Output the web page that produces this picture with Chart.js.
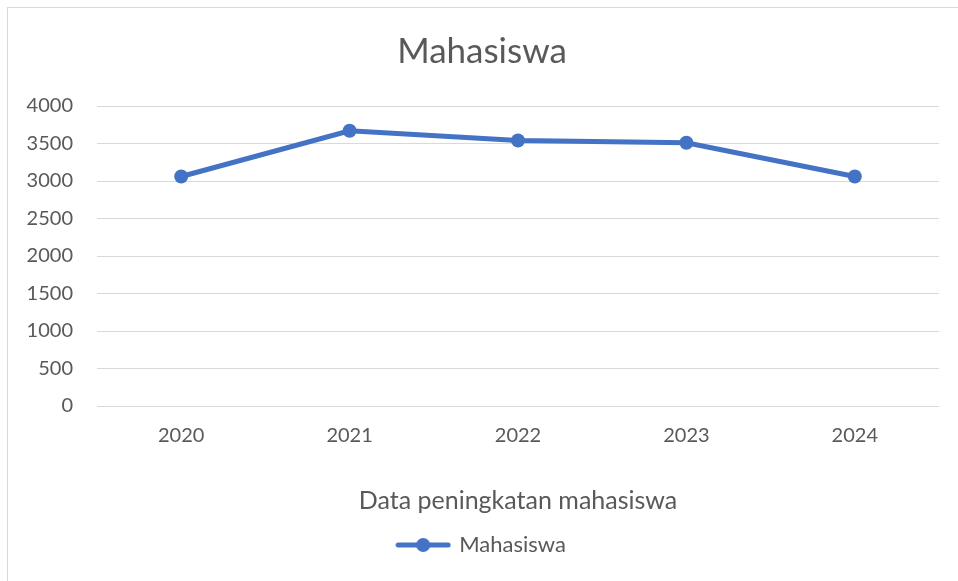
<!DOCTYPE html>
<html>
<head>
<meta charset="utf-8">
<script src="https://cdn.jsdelivr.net/npm/chart.js@4.4.1/dist/chart.umd.min.js"></script>
<style>
  html, body { margin: 0; padding: 0; background: #fff; overflow: hidden; }
  #frame {
    position: absolute; left: 7px; top: 7px;
    width: 962px; height: 580px;
    border-left: 1px solid #d9d9d9; border-top: 1px solid #d9d9d9;
  }
  canvas { display: block; }
</style>
</head>
<body>
<div id="frame"><canvas id="mhsChart" width="962" height="574"></canvas></div>
<script>
// data
const years = ['2020', '2021', '2022', '2023', '2024'];
const mahasiswa = [3060, 3670, 3540, 3510, 3060];
const yTicks = [0, 500, 1000, 1500, 2000, 2500, 3000, 3500, 4000];

const blue = '#4472C4';
const textGray = '#595959';
const fontFamily = 'Lato, "Open Sans", sans-serif';

// legend marker: line with a dot in the middle, like Excel
function makeLegendMarker() {
    const c = document.createElement('canvas');
    c.width = 56;
    c.height = 16;
    const g = c.getContext('2d');
    g.strokeStyle = blue;
    g.lineWidth = 5;
    g.lineCap = 'round';
    g.beginPath();
    g.moveTo(3, 8);
    g.lineTo(53, 8);
    g.stroke();
    g.fillStyle = blue;
    g.beginPath();
    g.arc(28, 8, 7, 0, Math.PI * 2);
    g.fill();
    return c;
}

document.addEventListener('DOMContentLoaded', function() {
    const ctx = document.getElementById('mhsChart').getContext('2d');
    const marker = makeLegendMarker();

    new Chart(ctx, {
        type: 'line',
        data: {
            labels: years,
            datasets: [{
                label: 'Mahasiswa',
                data: mahasiswa,
                borderColor: blue,
                backgroundColor: blue,
                borderWidth: 5,
                pointRadius: 7,
                pointHoverRadius: 7,
                pointBackgroundColor: blue,
                pointBorderWidth: 0,
                tension: 0,
                fill: false
            }]
        },
        options: {
            responsive: false,
            animation: false,
            layout: {
                padding: { top: 0, left: 17, right: 31, bottom: 16 }
            },
            plugins: {
                title: {
                    display: true,
                    text: 'Mahasiswa',
                    color: textGray,
                    font: { family: fontFamily, size: 35, weight: 'normal' },
                    padding: { top: 23, bottom: 33 }
                },
                legend: {
                    display: true,
                    position: 'bottom',
                    labels: {
                        usePointStyle: true,
                        pointStyle: marker,
                        pointStyleWidth: 50,
                        color: textGray,
                        font: { family: fontFamily, size: 22 },
                        generateLabels: function(chart) {
                            return [{
                                text: 'Mahasiswa',
                                pointStyle: marker,
                                fontColor: textGray,
                                lineWidth: 0,
                                datasetIndex: 0
                            }];
                        }
                    }
                },
                tooltip: { enabled: false }
            },
            scales: {
                x: {
                    offset: true,
                    grid: { display: false, drawTicks: false },
                    border: { display: false },
                    ticks: {
                        color: textGray,
                        font: { family: fontFamily, size: 20 },
                        padding: 18
                    },
                    title: {
                        display: true,
                        text: 'Data peningkatan mahasiswa',
                        color: textGray,
                        font: { family: fontFamily, size: 25 },
                        padding: { top: 20, bottom: 8 }
                    }
                },
                y: {
                    min: 0,
                    max: 4000,
                    afterBuildTicks: function(axis) {
                        axis.ticks = yTicks.map(v => ({ value: v }));
                    },
                    afterFit: function(axis) {
                        axis.width = 72;
                    },
                    grid: { color: '#d9d9d9', lineWidth: 1, drawTicks: false },
                    border: { display: false },
                    ticks: {
                        color: textGray,
                        font: { family: fontFamily, size: 20 },
                        padding: 24,
                        callback: function(value) { return String(value); }
                    }
                }
            }
        }
    });
});
</script>
</body>
</html>
